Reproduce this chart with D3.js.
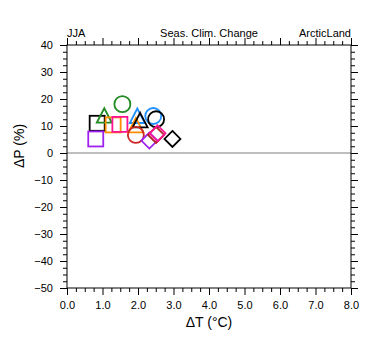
<!DOCTYPE html>
<html><head><meta charset="utf-8">
<script src="https://cdn.jsdelivr.net/npm/d3@7"></script>
<style>body{margin:0;background:#fff}svg{display:block}text{font-family:"Liberation Sans",Arial,sans-serif}</style>
</head><body>
<svg id="c" width="380" height="355"></svg>
<script>
const names = ["m01","m02","m03","m04","m05","m06","m07","m08","m09","m10","m11","m12","m13","m14","m15","m16"];
const dT = [0.85,0.81,1.05,1.56,1.30,1.49,1.98,1.94,2.06,1.94,2.43,2.51,2.32,2.51,2.55,2.97];
const dP = [11.0,5.2,13.9,18.1,10.4,10.6,13.8,10.3,12.2,6.7,13.7,12.5,4.6,6.7,7.3,5.2];
const shapes = ["square","square","triangle","circle","square","square","triangle","triangle","triangle","circle","circle","circle","diamond","diamond","diamond","diamond"];
const colors = ["#000000","#a020f0","#228b22","#228b22","#ff8c00","#ff1493","#1e90ff","#ff8c00","#000000","#cd2626","#1e90ff","#000000","#a020f0","#b22222","#ff1493","#000000"];
const xTicks = [0,1,2,3,4,5,6,7,8];
const yTicks = [40,30,20,10,0,-10,-20,-30,-40,-50];

const svg = d3.select("#c");
const L=67,R=351,T=45,B=288;
const x = d3.scaleLinear().domain([0,8]).range([L,R]);
const y = d3.scaleLinear().domain([-50,40]).range([B,T]);

// zero line
svg.append("line").attr("x1",L).attr("x2",R).attr("y1",y(0)).attr("y2",y(0))
  .attr("stroke","#a8a8a8").attr("stroke-width",1.6);

const xMinor = d3.range(0,8.001,0.25).filter(v=>Math.abs(v-Math.round(v))>1e-6);
const yMinor = d3.range(-50,40.001,2.5).filter(v=>Math.abs(v/10-Math.round(v/10))>1e-6);

function axis(gen, pos, major, minor){
  const g = svg.append("g").attr("transform",pos);
  g.call(gen.tickValues(minor).tickSize(4).tickFormat(""));
  g.select(".domain").remove();
  const g2 = svg.append("g").attr("transform",pos);
  return g2;
}
const fmtX = d=>d.toFixed(1);
// bottom
axis(d3.axisBottom(x),`translate(0,${B})`,xTicks,xMinor);
svg.append("g").attr("transform",`translate(0,${B})`)
  .call(d3.axisBottom(x).tickValues(xTicks).tickSize(7).tickPadding(6).tickFormat(fmtX))
  .call(g=>g.select(".domain").remove())
  .call(g=>g.selectAll("text").attr("font-size",11).attr("fill","#000").style("font-family","'Liberation Sans',Arial,sans-serif"));
// top
axis(d3.axisTop(x),`translate(0,${T})`,xTicks,xMinor);
svg.append("g").attr("transform",`translate(0,${T})`)
  .call(d3.axisTop(x).tickValues(xTicks).tickSize(7).tickFormat(""))
  .call(g=>g.select(".domain").remove());
// left
axis(d3.axisLeft(y),`translate(${L},0)`,yTicks,yMinor);
svg.append("g").attr("transform",`translate(${L},0)`)
  .call(d3.axisLeft(y).tickValues(yTicks).tickSize(7).tickPadding(7).tickFormat(d3.format("d")))
  .call(g=>g.select(".domain").remove())
  .call(g=>g.selectAll("text").attr("font-size",11).attr("fill","#000").style("font-family","'Liberation Sans',Arial,sans-serif"));
// right
axis(d3.axisRight(y),`translate(${R},0)`,yTicks,yMinor);
svg.append("g").attr("transform",`translate(${R},0)`)
  .call(d3.axisRight(y).tickValues(yTicks).tickSize(7).tickFormat(""))
  .call(g=>g.select(".domain").remove());
svg.selectAll(".tick line").attr("stroke","#000").attr("stroke-width",1);

// frame
svg.append("rect").attr("x",L).attr("y",T).attr("width",R-L).attr("height",B-T)
  .attr("fill","none").attr("stroke","#000").attr("stroke-width",1);

// markers
const sz = 16;
const g = svg.append("g");
dT.forEach((v,i)=>{
  const cx = x(v), cy = y(dP[i]);
  const st = {stroke:colors[i],"stroke-width":1.8,fill:"none"};
  let el;
  if(shapes[i]==="square"){
    el = g.append("rect").attr("x",cx-7.5).attr("y",cy-7.5).attr("width",15).attr("height",15);
  } else if(shapes[i]==="circle"){
    el = g.append("circle").attr("cx",cx).attr("cy",cy).attr("r",8);
  } else if(shapes[i]==="triangle"){
    const h=14.5, w=15;
    el = g.append("path").attr("d",`M${cx},${cy-h/2}L${cx+w/2},${cy+h/2}L${cx-w/2},${cy+h/2}Z`);
  } else {
    const r=8;
    el = g.append("path").attr("d",`M${cx},${cy-r}L${cx+r},${cy}L${cx},${cy+r}L${cx-r},${cy}Z`);
  }
  Object.entries(st).forEach(([k,val])=>el.attr(k,val));
});

// titles
svg.append("text").attr("x",L).attr("y",37).attr("font-size",11).text("JJA");
svg.append("text").attr("x",(L+R)/2).attr("y",37).attr("font-size",11).attr("text-anchor","middle").text("Seas. Clim. Change");
svg.append("text").attr("x",R).attr("y",37).attr("font-size",11).attr("text-anchor","end").text("ArcticLand");
svg.append("text").attr("x",(L+R)/2).attr("y",327).attr("font-size",14).attr("text-anchor","middle").text("\u0394T (\u00B0C)");
svg.append("text").attr("transform","translate(24,146) rotate(-90)").attr("font-size",14).attr("text-anchor","middle").text("\u0394P (%)");
</script>
</body></html>
